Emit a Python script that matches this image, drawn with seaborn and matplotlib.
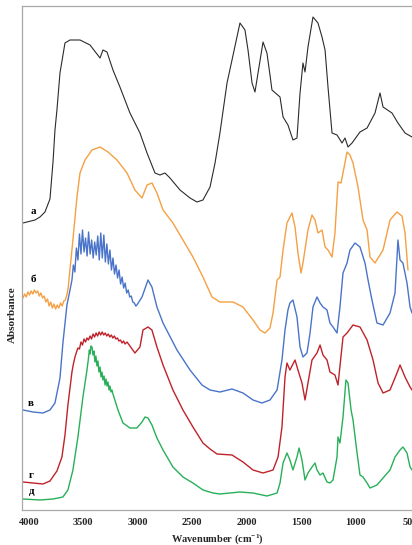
import numpy as np
import pandas as pd
import matplotlib
matplotlib.use("Agg")
import matplotlib.pyplot as plt
import seaborn as sns

# ---------------- data ----------------
curve_labels = ["а", "б", "в", "г", "д"]
x_ticks = [4000, 3500, 3000, 2500, 2000, 1500, 1000, 500]

wn_a = [4055, 3945, 3899, 3853, 3807, 3779, 3761, 3743, 3715, 3669, 3623, 3531, 3439, 3347, 3320,
        3283, 3228, 3164, 3072, 2980, 2915, 2842, 2796, 2750, 2704, 2612, 2520, 2456, 2401, 2336,
        2290, 2245, 2180, 2134, 2061, 2015, 1987, 1950, 1923, 1895, 1849, 1813, 1785, 1767, 1693,
        1665, 1620, 1574, 1537, 1509, 1482, 1463, 1436, 1390, 1344, 1307, 1279, 1252, 1215, 1169,
        1123, 1096, 1068, 1031, 958, 893, 820, 774, 746, 664, 609, 544, 480]
abs_a = [2.87, 2.90, 2.93, 2.98, 3.11, 3.48, 3.80, 4.00, 4.37, 4.67, 4.70, 4.70, 4.65, 4.52, 4.60,
         4.58, 4.40, 4.23, 3.97, 3.77, 3.57, 3.37, 3.35, 3.37, 3.32, 3.20, 3.12, 3.08, 3.10, 3.23,
         3.47, 3.77, 4.27, 4.50, 4.87, 4.80, 4.60, 4.27, 4.18, 4.37, 4.68, 4.57, 4.35, 4.20, 4.13,
         3.93, 3.85, 3.70, 3.72, 4.17, 4.47, 4.38, 4.63, 4.93, 4.87, 4.73, 4.60, 4.23, 3.77, 3.75,
         3.67, 3.72, 3.63, 3.67, 3.78, 3.82, 3.97, 4.17, 4.03, 3.97, 3.87, 3.77, 3.73]

wn_b = [4055, 4040, 4025, 4010, 3995, 3980, 3965, 3950, 3935, 3920, 3905, 3890, 3875, 3860, 3845,
        3830, 3815, 3800, 3785, 3770, 3755, 3740, 3725, 3710, 3695, 3680, 3665, 3650, 3640,
        3596, 3559, 3531, 3485, 3421, 3347, 3274, 3191, 3099, 3026, 2961, 2915, 2869, 2824, 2768,
        2677, 2585, 2493, 2401, 2318, 2245, 2125, 2033, 1941, 1877, 1831, 1785, 1757, 1720, 1693,
        1665, 1629, 1583, 1555, 1528, 1500, 1482, 1436, 1399, 1371, 1344, 1307, 1279, 1252, 1215,
        1188, 1160, 1132, 1077, 1050, 1022, 976, 930, 893, 866, 820, 746, 682, 618, 572, 544, 517]
abs_b = [2.12, 2.16, 2.13, 2.18, 2.15, 2.19, 2.16, 2.20, 2.17, 2.19, 2.14, 2.17, 2.12, 2.14, 2.08,
         2.11, 2.04, 2.08, 2.02, 2.06, 2.01, 2.05, 2.02, 2.07, 2.04, 2.09, 2.10, 2.16, 2.22,
         2.70, 3.13, 3.37, 3.50, 3.60, 3.63, 3.58, 3.50, 3.37, 3.20, 3.12, 3.25, 3.27, 3.17, 3.00,
         2.87, 2.70, 2.53, 2.33, 2.13, 2.08, 2.08, 2.03, 1.90, 1.80, 1.77, 1.82, 1.97, 2.30, 2.33,
         2.60, 2.87, 2.97, 2.83, 2.57, 2.37, 2.47, 2.80, 2.95, 2.90, 2.77, 2.80, 2.63, 2.60, 2.53,
         2.77, 3.28, 3.27, 3.58, 3.55, 3.47, 3.23, 2.90, 2.80, 2.53, 2.47, 2.60, 2.90, 2.98, 2.94, 2.77, 2.40]

wn_c = [4055, 3963, 3871, 3807, 3761, 3715, 3688, 3651, 3623,
        3605, 3592, 3578, 3564, 3550, 3536, 3522, 3508, 3494, 3480, 3466, 3452, 3438, 3424, 3410,
        3396, 3382, 3368, 3354, 3340, 3326, 3312, 3298, 3284, 3270, 3256, 3242, 3228, 3214, 3200,
        3186, 3172, 3158, 3144, 3130, 3116, 3102, 3088, 3074, 3060, 3046, 3032, 3018, 3008,
        2961, 2906, 2870, 2824, 2768, 2640, 2520, 2410, 2336, 2245, 2134, 2033, 1941, 1859, 1785,
        1720, 1675, 1647, 1620, 1602, 1574, 1537, 1509, 1482, 1445, 1417, 1390, 1353, 1325, 1298,
        1261, 1234, 1206, 1169, 1142, 1114, 1077, 1050, 1004, 958, 912, 884, 848, 802, 746, 682,
        636, 609, 590, 563, 526, 498, 480]
abs_c = [1.00, 0.98, 0.97, 1.00, 1.07, 1.32, 1.67, 2.05, 2.20,
         2.30, 2.45, 2.38, 2.62, 2.50, 2.76, 2.56, 2.80, 2.58, 2.72, 2.54, 2.78, 2.56, 2.70, 2.52,
         2.68, 2.55, 2.74, 2.50, 2.77, 2.52, 2.75, 2.48, 2.66, 2.46, 2.60, 2.40, 2.52, 2.36, 2.45,
         2.32, 2.40, 2.26, 2.33, 2.22, 2.27, 2.17, 2.20, 2.13, 2.14, 2.08, 2.07, 2.04, 2.05,
         2.13, 2.30, 2.23, 2.03, 1.87, 1.60, 1.40, 1.25, 1.20, 1.18, 1.21, 1.17, 1.10, 1.07, 1.10,
         1.20, 1.50, 1.80, 2.00, 2.07, 2.10, 1.93, 1.63, 1.53, 1.57, 1.77, 2.03, 2.13, 2.07, 2.03,
         2.00, 1.87, 1.83, 1.77, 2.03, 2.37, 2.47, 2.60, 2.67, 2.63, 2.47, 2.30, 2.10, 1.87, 1.85, 1.97,
         2.17, 2.70, 2.50, 2.47, 2.27, 2.03, 1.97]

wn_d = [4055, 3963, 3871, 3807, 3743, 3697, 3669, 3642,
        3605, 3590, 3577, 3563, 3550, 3536, 3522, 3508, 3494, 3480, 3467, 3453, 3439, 3425, 3411,
        3397, 3383, 3369, 3355, 3341, 3327, 3313, 3299, 3285, 3271, 3257, 3243, 3229, 3215, 3201,
        3187, 3173, 3159, 3145, 3131, 3117, 3099,
        3026, 2980, 2952, 2906, 2870, 2824, 2768, 2677, 2585, 2493, 2401, 2336, 2272, 2134, 2033,
        1941, 1849, 1757, 1711, 1675, 1647, 1629, 1602, 1555, 1528, 1491, 1463, 1436, 1399, 1353,
        1325, 1298, 1261, 1234, 1188, 1160, 1114, 1077, 1022, 958, 893, 838, 792, 746, 682, 618,
        590, 544, 498, 480]
abs_d = [0.28, 0.27, 0.26, 0.29, 0.39, 0.53, 0.75, 1.05,
         1.38, 1.47, 1.53, 1.58, 1.62, 1.61, 1.68, 1.65, 1.71, 1.68, 1.72, 1.70, 1.74, 1.71, 1.76,
         1.73, 1.77, 1.74, 1.78, 1.75, 1.78, 1.75, 1.77, 1.74, 1.76, 1.73, 1.75, 1.72, 1.74, 1.71,
         1.72, 1.69, 1.70, 1.67, 1.69, 1.66, 1.68,
         1.57, 1.63, 1.80, 1.83, 1.80, 1.63, 1.45, 1.20, 1.00, 0.83, 0.67, 0.61, 0.56, 0.55, 0.48,
         0.40, 0.37, 0.40, 0.53, 0.83, 1.33, 1.47, 1.40, 1.50, 1.40, 1.27, 1.10, 1.27, 1.50, 1.57,
         1.65, 1.55, 1.50, 1.38, 1.35, 1.25, 1.73, 1.77, 1.85, 1.83, 1.70, 1.50, 1.27, 1.17, 1.20, 1.37,
         1.45, 1.33, 1.23, 1.20]

wn_e = [4055, 3899, 3779, 3688, 3642, 3596, 3550, 3504,
        3467, 3455, 3445, 3439, 3430, 3421, 3412, 3403, 3394, 3385, 3375, 3366, 3357, 3347, 3338,
        3329, 3320, 3310, 3301, 3292, 3283, 3274, 3264, 3256, 3246, 3237, 3228,
        3182, 3136, 3072, 3008, 2961, 2934, 2906, 2870, 2824, 2768, 2677, 2585, 2493, 2401, 2309,
        2245, 2061, 1941, 1813, 1720, 1693, 1665, 1629, 1602, 1574, 1537, 1518, 1491, 1463, 1436,
        1399, 1371, 1353, 1325, 1298, 1261, 1234, 1206, 1169, 1160, 1142, 1114, 1087, 1068, 1040,
        1022, 985, 958, 930, 893, 866, 802, 746, 682, 636, 590, 563, 526, 498, 480]
abs_e = [0.11, 0.10, 0.11, 0.13, 0.20, 0.40, 0.73, 1.13,
         1.40, 1.50, 1.60, 1.56, 1.64, 1.63, 1.55, 1.59, 1.48, 1.54, 1.44, 1.49, 1.38, 1.43, 1.33,
         1.38, 1.30, 1.34, 1.25, 1.31, 1.24, 1.28, 1.20, 1.24, 1.18, 1.20, 1.16,
         1.00, 0.87, 0.82, 0.82, 0.88, 0.93, 0.92, 0.85, 0.72, 0.60, 0.43, 0.33, 0.27, 0.20, 0.17,
         0.16, 0.18, 0.17, 0.14, 0.17, 0.27, 0.47, 0.57, 0.50, 0.40, 0.53, 0.62, 0.50, 0.30, 0.37,
         0.43, 0.47, 0.40, 0.35, 0.37, 0.28, 0.27, 0.30, 0.53, 0.73, 0.67, 0.93, 1.30, 1.27, 1.00,
         0.90, 0.57, 0.35, 0.33, 0.27, 0.22, 0.25, 0.32, 0.40, 0.53, 0.60, 0.63, 0.57, 0.43, 0.40]

# ---------------- styling ----------------
sns.set_theme(style="white")
plt.rcParams["font.family"] = ["Liberation Serif", "DejaVu Serif"]
plt.rcParams["font.weight"] = "bold"
plt.rcParams["mathtext.fontset"] = "custom"
plt.rcParams["mathtext.rm"] = "Liberation Serif:bold"
plt.rcParams["mathtext.bf"] = "Liberation Serif:bold"
plt.rcParams["mathtext.it"] = "Liberation Serif:bold"

colors = ["#2b2b2b", "#F5A043", "#4A74C9", "#C0222A", "#27B058"]
series = [(wn_a, abs_a), (wn_b, abs_b), (wn_c, abs_c), (wn_d, abs_d), (wn_e, abs_e)]

fig = plt.figure(figsize=(4.12, 5.45), dpi=100)
ax = fig.add_axes([22 / 412, 35 / 545, 1 - 22 / 412, 504 / 545])

for (wn, ab), col, lab in zip(series, colors, curve_labels):
    df = pd.DataFrame({"wn": wn, "A": ab})
    sns.lineplot(data=df, x="wn", y="A", sort=False, estimator=None, color=col,
                 linewidth=1.0 if col != colors[0] else 0.8, ax=ax)

ax.set_xlim(4064, 480)
ax.set_ylim(0, 5.04)
ax.set_xticks(x_ticks)
ax.set_xticklabels([str(t) for t in x_ticks], fontsize=7.5, fontweight="bold")
ax.set_yticks([])
ax.tick_params(axis="x", length=0, pad=6)
ax.set_xlabel("Wavenumber (cm$^{-1}$)", fontsize=7.5, fontweight="bold", labelpad=3.5)
ax.set_ylabel("")
for side in ["left", "top", "bottom"]:
    ax.spines[side].set_color("#a8a8a8")
    ax.spines[side].set_linewidth(0.9)
ax.spines["right"].set_visible(False)

fig.text(12 / 412, (545 - 315) / 545, "Absorbance", rotation=90, ha="center", va="center",
         fontsize=8, fontweight="bold")

label_pos = [(3963, 2.98), (3963, 2.30), (3980, 1.07), (3980, 0.35), (3980, 0.18)]
for lab, (xx, yy) in zip(curve_labels, label_pos):
    ax.text(xx, yy, lab, fontsize=8, fontweight="bold", ha="center", va="center", color="black")

fig.savefig("out.png", dpi=100)
